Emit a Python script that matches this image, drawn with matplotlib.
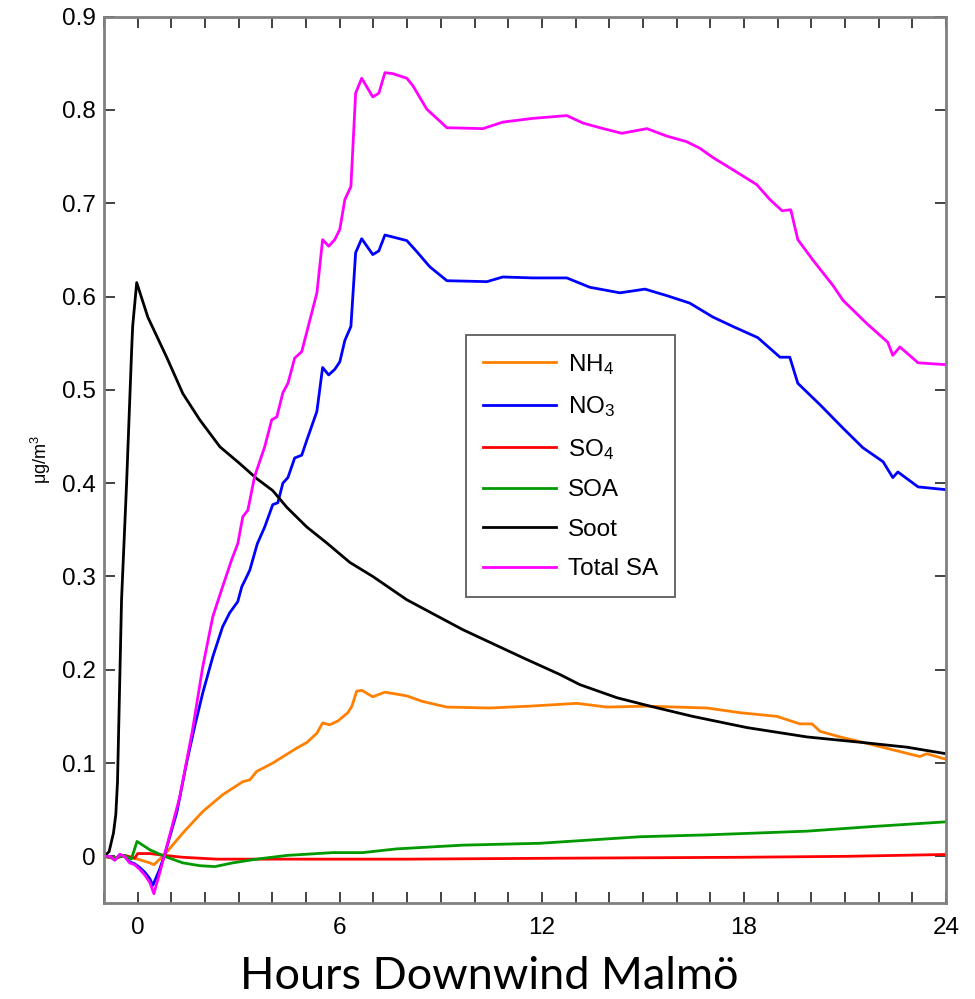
import matplotlib
matplotlib.use("Agg")
import matplotlib.pyplot as plt
from matplotlib.ticker import MultipleLocator, FuncFormatter

plt.rcParams['font.family'] = ['Liberation Sans', 'DejaVu Sans']
plt.rcParams['mathtext.default'] = 'regular'

# ---------------- data (hours downwind, ug/m3) ----------------
labels = ['NH$_4$', 'NO$_3$', 'SO$_4$', 'SOA', 'Soot', 'Total SA']
colors = ['#FF8000', '#0000FF', '#FF0000', '#009900', '#000000', '#FF00FF']

nh4_x = [-1.0, -0.68, -0.39, -0.09, 0.0, 0.36, 0.48, 0.8, 1.34, 1.93, 2.52, 3.12, 3.33, 3.53, 4.01, 4.72, 5.02,
         5.32, 5.49, 5.7, 5.94, 6.24, 6.36, 6.5, 6.65, 6.98, 7.34, 7.99, 8.46, 9.18, 10.45, 11.64, 13.04, 13.93,
         15.12, 16.9, 17.88, 18.98, 19.66, 20.02, 20.26, 20.85, 21.44, 22.33, 23.22, 23.43, 24.0]
nh4_y = [0.0, -0.002, 0.001, -0.002, -0.003, -0.007, -0.009, 0.002, 0.025, 0.048, 0.066, 0.08, 0.082, 0.091,
         0.1, 0.116, 0.122, 0.132, 0.143, 0.141, 0.145, 0.154, 0.161, 0.177, 0.178, 0.171, 0.176, 0.172, 0.166,
         0.16, 0.159, 0.161, 0.164, 0.16, 0.161, 0.159, 0.154, 0.15, 0.142, 0.142, 0.134, 0.128, 0.123, 0.115,
         0.107, 0.11, 0.104]

no3_x = [-1.0, -0.83, -0.68, -0.53, -0.39, -0.24, -0.09, 0.06, 0.21, 0.36, 0.45, 0.65, 0.8, 1.16, 1.45, 1.69,
         1.93, 2.23, 2.52, 2.73, 2.97, 3.09, 3.24, 3.33, 3.55, 3.77, 4.01, 4.16, 4.31, 4.46, 4.66, 4.87, 5.02,
         5.32, 5.49, 5.67, 5.85, 6.0, 6.15, 6.33, 6.47, 6.65, 6.98, 7.16, 7.34, 7.99, 8.29, 8.67, 9.18, 10.37,
         10.84, 11.73, 12.74, 13.42, 14.32, 15.06, 15.71, 16.39, 17.08, 17.67, 18.41, 19.07, 19.36, 19.6,
         20.26, 20.94, 21.53, 22.13, 22.42, 22.57, 23.17, 24.0]
no3_y = [0.0, 0.0, -0.004, 0.002, 0.0, -0.006, -0.008, -0.012, -0.017, -0.024, -0.031, -0.014, 0.002, 0.047,
         0.1, 0.139, 0.175, 0.214, 0.246, 0.261, 0.273, 0.289, 0.3, 0.307, 0.335, 0.353, 0.377, 0.379, 0.4,
         0.406, 0.427, 0.43, 0.446, 0.477, 0.524, 0.516, 0.522, 0.53, 0.553, 0.568, 0.647, 0.662, 0.645, 0.649,
         0.666, 0.66, 0.648, 0.632, 0.617, 0.616, 0.621, 0.62, 0.62, 0.61, 0.604, 0.608, 0.601, 0.593, 0.578,
         0.568, 0.556, 0.535, 0.535, 0.507, 0.484, 0.459, 0.438, 0.423, 0.406, 0.412, 0.396, 0.393]

so4_x = [-1.0, -0.68, -0.39, -0.09, 0.0, 0.36, 0.8, 1.34, 2.35, 3.83, 8.0, 12.5, 17.88, 21.0, 24.0]
so4_y = [0.0, -0.002, 0.001, -0.002, 0.003, 0.003, 0.001, -0.001, -0.003, -0.003, -0.003, -0.002, -0.001,
         0.0, 0.002]

soa_x = [-1.0, -0.68, -0.39, -0.19, -0.02, 0.36, 0.8, 1.34, 1.84, 2.29, 2.82, 3.53, 4.43, 5.79, 6.68, 7.69,
         9.65, 11.94, 14.91, 16.9, 19.87, 21.83, 24.0]
soa_y = [0.0, -0.002, 0.001, -0.003, 0.016, 0.007, 0.0, -0.007, -0.01, -0.011, -0.007, -0.003, 0.001, 0.004,
         0.004, 0.008, 0.012, 0.014, 0.021, 0.023, 0.027, 0.032, 0.037]

soot_x = [-1.0, -0.85, -0.72, -0.65, -0.6, -0.48, -0.33, -0.18, -0.15, -0.03, 0.3, 0.86, 1.34, 1.84, 2.44,
          3.03, 3.53, 4.01, 4.43, 5.02, 5.61, 6.3, 6.98, 7.99, 9.65, 11.43, 12.53, 13.13, 14.23, 15.21, 16.48,
          18.09, 19.87, 21.53, 22.84, 24.0]
soot_y = [0.0, 0.005, 0.025, 0.045, 0.08, 0.275, 0.4, 0.543, 0.568, 0.615, 0.578, 0.535, 0.496, 0.468, 0.439,
          0.421, 0.405, 0.392, 0.374, 0.353, 0.336, 0.315, 0.300, 0.275, 0.243, 0.213, 0.195, 0.184, 0.17,
          0.161, 0.15, 0.138, 0.128, 0.122, 0.117, 0.11]

tsa_x = [-1.0, -0.83, -0.68, -0.53, -0.39, -0.24, -0.09, 0.06, 0.21, 0.36, 0.48, 0.65, 0.8, 1.25, 1.63, 1.93,
         2.23, 2.52, 2.79, 2.97, 3.12, 3.27, 3.47, 3.77, 3.98, 4.13, 4.31, 4.46, 4.66, 4.87, 5.32, 5.49, 5.67,
         5.85, 6.0, 6.15, 6.33, 6.47, 6.65, 6.98, 7.16, 7.34, 7.57, 7.99, 8.17, 8.58, 9.18, 10.25, 10.84, 11.73,
         12.74, 13.22, 13.72, 14.37, 15.12, 15.71, 16.3, 16.69, 17.08, 17.67, 18.38, 18.77, 19.13, 19.39, 19.6,
         20.05, 20.64, 20.94, 21.65, 22.27, 22.42, 22.63, 23.17, 24.0]
tsa_y = [0.0, 0.0, -0.004, 0.002, 0.0, -0.007, -0.009, -0.014, -0.02, -0.028, -0.04, -0.018, 0.002, 0.064,
         0.136, 0.203, 0.257, 0.289, 0.318, 0.335, 0.364, 0.371, 0.407, 0.439, 0.468, 0.471, 0.497, 0.507,
         0.534, 0.541, 0.604, 0.661, 0.654, 0.661, 0.672, 0.704, 0.718, 0.818, 0.834, 0.814, 0.818, 0.840,
         0.839, 0.834, 0.826, 0.801, 0.781, 0.780, 0.787, 0.791, 0.794, 0.786, 0.781, 0.775, 0.780, 0.772,
         0.766, 0.759, 0.749, 0.736, 0.720, 0.704, 0.692, 0.693, 0.661, 0.639, 0.612, 0.596, 0.571, 0.551,
         0.537, 0.546, 0.529, 0.527]

xticks = [0, 6, 12, 18, 24]
yticks = [0, 0.1, 0.2, 0.3, 0.4, 0.5, 0.6, 0.7, 0.8, 0.9]

# ---------------- figure ----------------
fig = plt.figure(figsize=(9.75, 9.99), dpi=100)
ax = fig.add_axes([0.1067, 0.0961, 0.8636, 0.8872])

series = [(nh4_x, nh4_y), (no3_x, no3_y), (so4_x, so4_y), (soa_x, soa_y), (soot_x, soot_y), (tsa_x, tsa_y)]
for (xs, ys), lab, col in zip(series, labels, colors):
    ax.plot(xs, ys, color=col, lw=2.0, label=lab)

ax.set_xlim(-1, 24)
ax.set_ylim(-0.05, 0.9)
ax.set_xticks(xticks)
ax.xaxis.set_minor_locator(MultipleLocator(1))
ax.set_yticks(yticks)
ax.yaxis.set_major_formatter(FuncFormatter(lambda v, p: '%g' % round(v, 2)))

ax.tick_params(axis='both', which='both', direction='in', top=True, right=True,
               length=8, width=1.3, color='#333333', labelsize=17.5)
ax.tick_params(axis='x', which='major', pad=10)
ax.tick_params(axis='y', which='major', pad=6)
for s in ax.spines.values():
    s.set_color('#808080')
    s.set_linewidth(2.0)

ax.set_ylabel('μg/m$^3$', fontsize=13, labelpad=6)
ax.set_xlabel('Hours Downwind Malmö', fontsize=32.5, family=['Lato', 'DejaVu Sans'], labelpad=12)
ax.xaxis.label.set_x(0.457)

leg = ax.legend(loc='upper left', bbox_to_anchor=(0.43, 0.641), fontsize=17.5, frameon=True,
                fancybox=False, edgecolor='#333333', handlelength=3.0, handletextpad=0.5,
                labelspacing=0.72, borderpad=0.7, borderaxespad=0)
leg.get_frame().set_linewidth(1.3)
for line in leg.get_lines():
    line.set_linewidth(2.0)

fig.savefig('out.png', dpi=100)
